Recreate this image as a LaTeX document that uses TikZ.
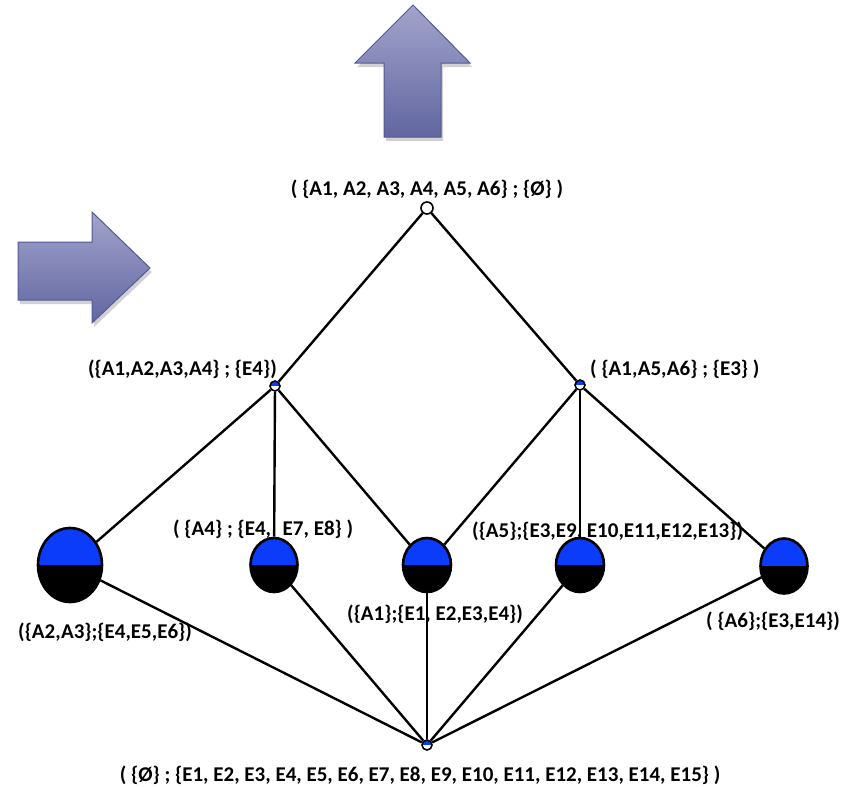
\documentclass[tikz,border=0pt]{standalone}
\usepackage{fontspec}
\setmainfont{Carlito}
\usetikzlibrary{shapes.geometric,shadows}

\definecolor{conceptblue}{RGB}{10,60,250}
\definecolor{arrowlight}{RGB}{162,164,204}
\definecolor{arrowdark}{RGB}{98,102,160}
\definecolor{arrowedge}{RGB}{84,88,150}

\tikzset{
    lab/.style={font=\bfseries\fontsize{21}{23}\selectfont, inner sep=0pt},
    tophalf/.style={path picture={\fill[#1] (path picture bounding box.north west) rectangle (path picture bounding box.east);}},
    concept/.style={ellipse, draw, line width=2.6pt, fill=black, inner sep=0pt, tophalf=conceptblue},
    dot/.style={circle, draw, line width=1.6pt, fill=white, inner sep=0pt, minimum size=10pt},
    bluedot/.style={dot, tophalf=conceptblue},
    edge/.style={line width=2.4pt},
    bigarrow/.style={draw=arrowedge, line width=1pt, top color=arrowlight, bottom color=arrowdark,
        drop shadow={shadow xshift=2pt, shadow yshift=-4pt, opacity=0.3, fill=black!60}}
}

\begin{document}
\begin{tikzpicture}[x=1pt,y=-1pt]
    \useasboundingbox (0,0) rectangle (854,787);

    % the two big arrows
    \path[bigarrow] (413,5) -- (470,63) -- (441,63) -- (441,137) -- (384,137) -- (384,63) -- (355,63) -- cycle;
    \path[bigarrow] (150,268) -- (92,323) -- (92,300) -- (18,300) -- (18,242) -- (92,242) -- (92,212) -- cycle;

    % labels
    \node[lab, anchor=base] (ltop) at (427,195) {( \{A1, A2, A3, A4, A5, A6\} ; \{Ø\} )};
    \node[lab, anchor=base east] (llA) at (277,375) {(\{A1,A2,A3,A4\} ; \{E4\})};
    \node[lab, anchor=base west] (lrA) at (590,375) {( \{A1,A5,A6\} ; \{E3\} )};
    \node[lab, anchor=base west] (la4) at (173,535) {( \{A4\} ; \{E4,\hspace{0.55em}E7, E8\} )};
    \node[lab, anchor=base west] (la5) at (472,537) {(\{A5\};\{E3,E9, E10,E11,E12,E13\})};
    \node[lab, anchor=base west] (la1) at (347,620) {(\{A1\};\{E1, E2,E3,E4\})};
    \node[lab, anchor=base west] (la23) at (18,638) {(\{A2,A3\};\{E4,E5,E6\})};
    \node[lab, anchor=base west] (la6) at (706,627) {( \{A6\};\{E3,E14\})};
    \node[lab, anchor=base] (lbot) at (420,781) {( \{Ø\} ; \{E1, E2, E3, E4, E5, E6, E7, E8, E9, E10, E11, E12, E13, E14, E15\} )};

    % lattice nodes
    \node[dot, minimum size=12pt] (top) at (427,208) {};
    \node[bluedot] (lA) at (275,386) {};
    \node[bluedot] (rA) at (580,385) {};
    \node[bluedot] (bot) at (427,745) {};
    \node[concept, minimum width=64pt, minimum height=74pt] (a23) at (70,565) {};
    \node[concept, minimum width=47pt, minimum height=54pt] (a4) at (274,565) {};
    \node[concept, minimum width=48pt, minimum height=54pt] (a1) at (427,565) {};
    \node[concept, minimum width=48pt, minimum height=54pt] (a5) at (580,565) {};
    \node[concept, minimum width=47pt, minimum height=55pt] (a6) at (784,566) {};

    % edges
    \foreach \a/\b in {top/lA, top/rA, lA/a23, lA/a4, lA/a1, rA/a1, rA/a5, rA/a6,
                       bot/a23, bot/a4, bot/a1, bot/a5, bot/a6} {
        \draw[edge] (\a) -- (\b);
    }
\end{tikzpicture}
\end{document}
